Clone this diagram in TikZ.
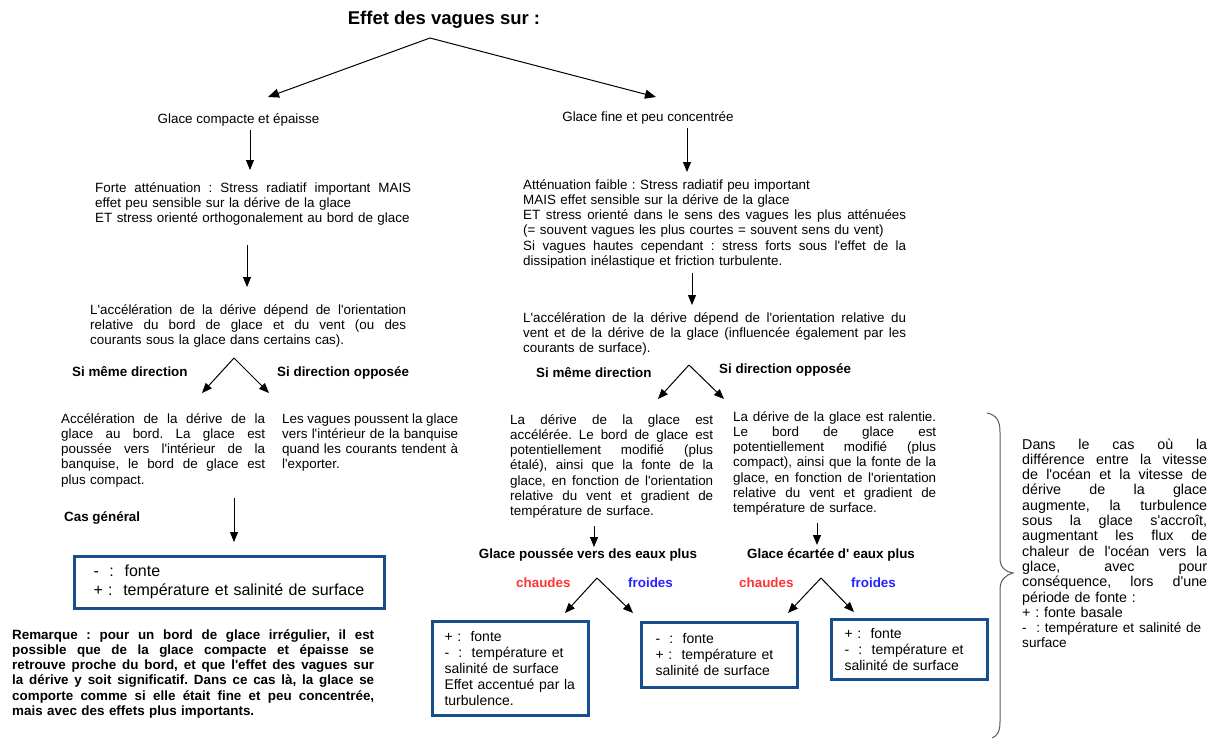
\documentclass[tikz,border=0pt]{standalone}
\usepackage{fontspec}
\setmainfont{Liberation Sans}
\newfontfamily\lib{Liberation Sans}
\usetikzlibrary{arrows.meta}
\setlength{\parindent}{0pt}
\frenchspacing
\definecolor{boxblue}{RGB}{22,78,142}
\definecolor{chaudred}{RGB}{255,51,51}
\definecolor{froidblue}{RGB}{34,34,255}
\definecolor{bracegray}{RGB}{90,90,90}
\newcommand{\jl}[1]{{\frenchspacing\spaceskip=0pt\xspaceskip=0pt\makebox[\hsize][s]{#1}}}
\newcommand{\rl}[1]{\makebox[\hsize][l]{#1}}
\newcommand{\bodyf}{\lib\fontsize{13.4}{15.3}\selectfont\frenchspacing}
\newcommand{\boldf}{\lib\fontsize{13.4}{15.3}\selectfont\bfseries\frenchspacing}
\begin{document}
\begin{tikzpicture}[x=1pt,y=-1pt,
  tx/.style={font=\bodyf, inner sep=0pt, anchor=base west},
  bt/.style={font=\boldf, inner sep=0pt, anchor=base west},
  arr/.style={line width=1pt, -{Triangle[length=10pt,width=8pt]}},
  bigarr/.style={line width=1pt, -{Triangle[length=11pt,width=9pt]}},
  resbox/.style={draw=boxblue, line width=3pt, anchor=north west, inner ysep=0pt,
    align=left, font=\lib\fontsize{14}{16}\selectfont}
]
\useasboundingbox (0,0) rectangle (1211,740);

% Title and first split
\node[font=\lib\fontsize{18.5}{20}\selectfont\bfseries, inner sep=0pt, anchor=base] (title) at (444,24) {Effet des vagues sur :};
\coordinate (apex0) at (430,38);
\node[font=\bodyf, inner sep=0pt, anchor=base] (gce) at (238.5,123) {Glace compacte et épaisse};
\node[font=\bodyf, inner sep=0pt, anchor=base] (gfc) at (648,121) {Glace fine et peu concentrée};
\coordinate (t0l) at (268,97);
\coordinate (t0r) at (656,97);
\draw[bigarr] (apex0) -- (t0l);
\draw[bigarr] (apex0) -- (t0r);

% Left column
\node[tx, text width=316pt] (fa) at (95,192) {\jl{Forte atténuation : Stress radiatif important MAIS}\\\rl{effet peu sensible sur la dérive de la glace}\\\rl{ET stress orienté orthogonalement au bord de glace}};
\coordinate (a1s) at (250,130);
\coordinate (a1e) at (250,170);
\draw[arr] (a1s) -- (a1e);

\node[tx, text width=316pt] (acc1) at (90,314) {\jl{L'accélération de la dérive dépend de l'orientation}\\\jl{relative du bord de glace et du vent (ou des}\\\rl{courants sous la glace dans certains cas).}};
\coordinate (a2s) at (247,245);
\coordinate (a2e) at (247,287);
\draw[arr] (a2s) -- (a2e);

\node[bt] (sm1l) at (72,376) {Si même direction};
\node[bt] (so1l) at (277,376) {Si direction opposée};
\coordinate (apex1) at (234,358);
\coordinate (t1l) at (202,393);
\coordinate (t1r) at (269,393);
\draw[arr] (apex1) -- (t1l);
\draw[arr] (apex1) -- (t1r);

\node[tx, text width=204pt] (sm1) at (61,423) {\jl{Accélération de la dérive de la}\\\jl{glace au bord. La glace est}\\\jl{poussée vers l'intérieur de la}\\\jl{banquise, le bord de glace est}\\\rl{plus compact.}};
\node[tx, text width=176pt] (so1) at (282,423) {\jl{Les vagues poussent la glace}\\\jl{vers l'intérieur de la banquise}\\\jl{quand les courants tendent à}\\\rl{l'exporter.}};

\node[bt] (cas) at (64,521) {Cas général};
\coordinate (a3s) at (234,498);
\coordinate (a3e) at (234,542);
\draw[arr] (a3s) -- (a3e);

\node[resbox, minimum width=310pt, minimum height=52pt, inner xsep=19.5pt, text width=271pt, font=\lib\fontsize{16}{18.6}\selectfont] (box1) at (72.5,554.5) {-~~:~~fonte\\+~:~~température et salinité de surface};

\node[tx, font=\boldf, text width=362pt] (rem) at (12,639) {\jl{Remarque : pour un bord de glace irrégulier, il est}\\\jl{possible que de la glace compacte et épaisse se}\\\jl{retrouve proche du bord, et que l'effet des vagues sur}\\\jl{la dérive y soit significatif. Dans ce cas là, la glace se}\\\jl{comporte comme si elle était fine et peu concentrée,}\\\rl{mais avec des effets plus importants.}};

% Right column
\coordinate (b1s) at (687,128);
\coordinate (b1e) at (687,172);
\draw[arr] (b1s) -- (b1e);

\node[tx, text width=383pt] (af) at (523,189) {\rl{Atténuation faible : Stress radiatif peu important}\\\rl{MAIS effet sensible sur la dérive de la glace}\\\jl{ET stress orienté dans le sens des vagues les plus atténuées}\\\rl{(= souvent vagues les plus courtes = souvent sens du vent)}\\\jl{Si vagues hautes cependant : stress forts sous l'effet de la}\\\rl{dissipation inélastique et friction turbulente.}};
\coordinate (b2s) at (692,273);
\coordinate (b2e) at (692,305);
\draw[arr] (b2s) -- (b2e);

\node[tx, text width=383pt] (acc2) at (523,322) {\jl{L'accélération de la dérive dépend de l'orientation relative du}\\\jl{vent et de la dérive de la glace (influencée également par les}\\\rl{courants de surface).}};

\node[bt] (sm2l) at (536,377) {Si même direction};
\node[bt] (so2l) at (719,373) {Si direction opposée};
\coordinate (apex2) at (689,365);
\coordinate (t2l) at (658,399);
\coordinate (t2r) at (724,399);
\draw[arr] (apex2) -- (t2l);
\draw[arr] (apex2) -- (t2r);

\node[tx, text width=203pt] (sm2) at (510,424) {\jl{La dérive de la glace est}\\\jl{accélérée. Le bord de glace est}\\\jl{potentiellement modifié (plus}\\\jl{étalé), ainsi que la fonte de la}\\\jl{glace, en fonction de l'orientation}\\\jl{relative du vent et gradient de}\\\rl{température de surface.}};
\node[tx, text width=203pt] (so2) at (733,421) {\jl{La dérive de la glace est ralentie.}\\\jl{Le bord de glace est}\\\jl{potentiellement modifié (plus}\\\jl{compact), ainsi que la fonte de la}\\\jl{glace, en fonction de l'orientation}\\\jl{relative du vent et gradient de}\\\rl{température de surface.}};

\coordinate (c1s) at (594,526);
\coordinate (c1e) at (594,547);
\draw[arr] (c1s) -- (c1e);
\coordinate (c2s) at (817,523);
\coordinate (c2e) at (817,545);
\draw[arr] (c2s) -- (c2e);

\node[font=\boldf, inner sep=0pt, anchor=base] (gpv) at (588,558) {Glace poussée vers des eaux plus};
\node[font=\boldf, inner sep=0pt, anchor=base] (gea) at (831,558) {Glace écartée d' eaux plus};

\node[bt, text=chaudred] (ch1) at (516,587) {chaudes};
\node[bt, text=froidblue] (fr1) at (628,587) {froides};
\node[bt, text=chaudred] (ch2) at (739,587) {chaudes};
\node[bt, text=froidblue] (fr2) at (851,587) {froides};

\coordinate (apex3) at (597,578);
\coordinate (t3l) at (565,613);
\coordinate (t3r) at (633,613);
\draw[arr] (apex3) -- (t3l);
\draw[arr] (apex3) -- (t3r);
\coordinate (apex4) at (821,578);
\coordinate (t4l) at (788,613);
\coordinate (t4r) at (854,612);
\draw[arr] (apex4) -- (t4l);
\draw[arr] (apex4) -- (t4r);

\node[resbox, minimum width=156pt, minimum height=94pt, inner xsep=12.5pt, text width=131pt] (boxA) at (430.5,619.5) {+~:~~fonte\\-~~:~~température et\\salinité de surface\\Effet accentué par la\\turbulence.};
\node[resbox, minimum width=156pt, minimum height=65pt, inner xsep=14.5pt, text width=127pt] (boxB) at (639.5,620.5) {-~~:~~fonte\\+~:~~température et\\salinité de surface};
\node[resbox, minimum width=156pt, minimum height=60pt, inner xsep=13.5pt, text width=129pt] (boxC) at (829.5,617.5) {+~:~~fonte\\-~~:~~température et\\salinité de surface};

% Brace
\draw[bracegray, line width=1pt] (987,413) .. controls (996,415) and (1000,420) .. (1000,432) -- (1000,558) .. controls (1000,568) and (1006,572) .. (1013,573) .. controls (1006,575) and (1000,579) .. (1000,590) -- (1000,722) .. controls (1000,732) and (997,736) .. (992,738);

\node[tx, font=\lib\fontsize{14.3}{15.3}\selectfont\frenchspacing, text width=185pt] (note) at (1022,449) {\jl{Dans le cas où la}\\\jl{différence entre la vitesse}\\\jl{de l'océan et la vitesse de}\\\jl{dérive de la glace}\\\jl{augmente, la turbulence}\\\jl{sous la glace s'accroît,}\\\jl{augmentant les flux de}\\\jl{chaleur de l'océan vers la}\\\jl{glace, avec pour}\\\jl{conséquence, lors d'une}\\\rl{période de fonte :}\\\rl{+ : fonte basale}\\\rl{\fontsize{13.6}{15.3}\selectfont - ~: température et salinité de}\\\rl{\fontsize{13.6}{15.3}\selectfont surface}};
\end{tikzpicture}
\end{document}
